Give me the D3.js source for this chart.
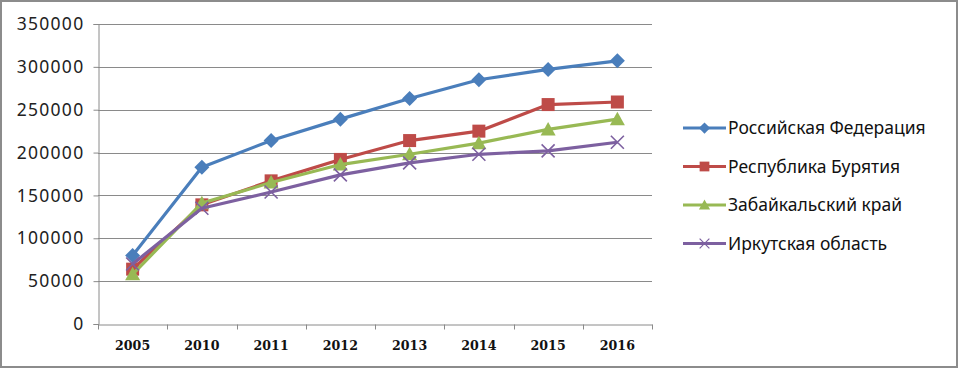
<!DOCTYPE html>
<html>
<head>
<meta charset="utf-8">
<script src="https://cdn.jsdelivr.net/npm/d3@7"></script>
<style>
  body { margin: 0; background: #fff; }
  svg { display: block; }
</style>
</head>
<body>
<div id="chart"></div>
<script>
const years = ["2005", "2010", "2011", "2012", "2013", "2014", "2015", "2016"];
const russia = [80000, 183000, 214000, 239000, 263000, 285000, 297000, 307000];
const buryatia = [64000, 139000, 167000, 192000, 214000, 225000, 256000, 259000];
const zabaikal = [58000, 141000, 165000, 186000, 198000, 211000, 227000, 239000];
const irkutsk = [70000, 135000, 154000, 174000, 188000, 198000, 202000, 212000];
const yTicks = [0, 50000, 100000, 150000, 200000, 250000, 300000, 350000];

const series = [
  { name: "Российская Федерация", values: russia, color: "#4a7ebb", marker: "diamond" },
  { name: "Республика Бурятия", values: buryatia, color: "#be4b48", marker: "square" },
  { name: "Забайкальский край", values: zabaikal, color: "#98b954", marker: "triangle" },
  { name: "Иркутская область", values: irkutsk, color: "#7d60a0", marker: "cross" },
];

const width = 961, height = 370;
const margin = { top: 24, right: 309, bottom: 46, left: 98 };

const svg = d3.select("#chart").append("svg")
  .attr("width", width)
  .attr("height", height);

svg.append("rect")
  .attr("x", 1).attr("y", 1)
  .attr("width", 956).attr("height", 366)
  .attr("fill", "#fff")
  .attr("stroke", "#8c8c8c")
  .attr("stroke-width", 2);

const x = d3.scaleBand()
  .domain(years)
  .range([margin.left, width - margin.right]);

const y = d3.scaleLinear()
  .domain([0, 350000])
  .range([height - margin.bottom, margin.top]);

// gridlines
svg.append("g")
  .selectAll("line")
  .data(yTicks.slice(1))
  .join("line")
  .attr("x1", margin.left)
  .attr("x2", width - margin.right)
  .attr("y1", d => Math.round(y(d)) + 0.5)
  .attr("y2", d => Math.round(y(d)) + 0.5)
  .attr("stroke", "#8a8a8a")
  .attr("stroke-width", 1);

// y axis
const yAxis = svg.append("g")
  .attr("transform", `translate(${margin.left + 0.5},0)`)
  .call(d3.axisLeft(y).tickValues(yTicks).tickSize(5).tickPadding(9).tickFormat(d3.format("d")));
yAxis.selectAll("text")
  .attr("font-family", "Noto Sans, sans-serif")
  .attr("font-size", 17.5)
  .attr("letter-spacing", 1.3)
  .attr("fill", "#222");
yAxis.selectAll("line, path").attr("stroke", "#8a8a8a");

// x axis
const xAxis = svg.append("g")
  .attr("transform", `translate(0,${height - margin.bottom + 0.5})`)
  .call(d3.axisBottom(x).tickSize(0).tickPadding(17));
xAxis.select(".domain").attr("stroke", "#8a8a8a");
xAxis.selectAll("text")
  .attr("font-family", "DejaVu Serif, serif")
  .attr("font-weight", "bold")
  .attr("font-size", 12.6)
  .attr("fill", "#111");
xAxis.selectAll(".sep")
  .data(years.concat(["end"]))
  .join("line")
  .attr("class", "sep")
  .attr("x1", (d, i) => Math.round(margin.left + i * x.step()) + 0.5)
  .attr("x2", (d, i) => Math.round(margin.left + i * x.step()) + 0.5)
  .attr("y1", 0)
  .attr("y2", 5)
  .attr("stroke", "#8a8a8a");

const line = d3.line()
  .x((d, i) => x(years[i]) + x.bandwidth() / 2)
  .y(d => y(d));

function drawMarker(g, type, color, cx, cy) {
  if (type === "diamond") {
    g.append("path")
      .attr("d", `M${cx},${cy - 7.5}L${cx + 7.5},${cy}L${cx},${cy + 7.5}L${cx - 7.5},${cy}Z`)
      .attr("fill", color);
  } else if (type === "square") {
    g.append("rect")
      .attr("x", cx - 6.5).attr("y", cy - 6.5)
      .attr("width", 13).attr("height", 13)
      .attr("fill", color);
  } else if (type === "triangle") {
    g.append("path")
      .attr("d", `M${cx},${cy - 7.5}L${cx + 7.5},${cy + 6}L${cx - 7.5},${cy + 6}Z`)
      .attr("fill", color);
  } else {
    g.append("path")
      .attr("d", `M${cx - 6.5},${cy - 6.5}L${cx + 6.5},${cy + 6.5}M${cx + 6.5},${cy - 6.5}L${cx - 6.5},${cy + 6.5}`)
      .attr("stroke", color)
      .attr("stroke-width", 1.6)
      .attr("fill", "none");
  }
}

for (const s of series) {
  const g = svg.append("g");
  g.append("path")
    .datum(s.values)
    .attr("fill", "none")
    .attr("stroke", s.color)
    .attr("stroke-width", 3.2)
    .attr("stroke-linejoin", "round")
    .attr("d", line);
  s.values.forEach((v, i) => {
    drawMarker(g, s.marker, s.color, x(years[i]) + x.bandwidth() / 2, y(v));
  });
}

// legend
const legend = svg.append("g");
series.forEach((s, i) => {
  const ly = 128 + i * 38.5;
  const g = legend.append("g");
  g.append("line")
    .attr("x1", 683).attr("x2", 726)
    .attr("y1", ly).attr("y2", ly)
    .attr("stroke", s.color)
    .attr("stroke-width", 3.2);
  const m = g.append("g").attr("transform", `translate(704.5,${ly}) scale(0.75)`);
  drawMarker(m, s.marker, s.color, 0, 0);
  g.append("text")
    .attr("x", 728)
    .attr("y", ly + 6)
    .attr("font-family", "Noto Sans, sans-serif")
    .attr("font-size", 17.5)
    .attr("fill", "#111")
    .text(s.name);
});
</script>
</body>
</html>
